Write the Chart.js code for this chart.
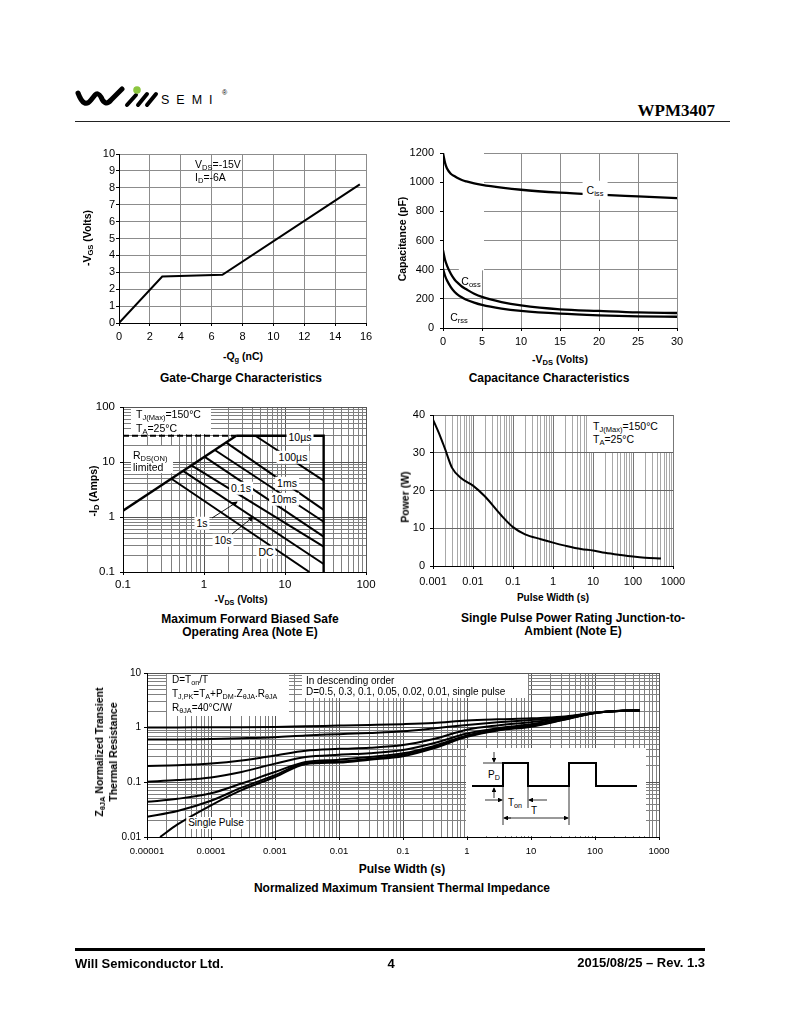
<!DOCTYPE html>
<html><head><meta charset="utf-8">
<script src="https://cdn.jsdelivr.net/npm/chart.js@4"></script>
<style>
html,body{margin:0;padding:0;background:#fff;}
body{width:800px;height:1035px;position:relative;overflow:hidden;font-family:"Liberation Sans",Arial,sans-serif;color:#000;}
canvas{position:absolute;z-index:1;}
.a{position:absolute;white-space:nowrap;z-index:3;line-height:1;}
.b{font-weight:bold;}
.c{transform:translate(-50%,-50%);}
.lm{transform:translate(0,-50%);}
.rot{transform:translate(-50%,-50%) rotate(-90deg);}
.box{position:absolute;background:#fff;z-index:2;}
sub{font-size:72%;vertical-align:baseline;position:relative;top:0.32em;line-height:0;}
.cap{text-align:center;line-height:13px;font-size:12px;font-weight:bold;}
.lbl{font-size:10.5px;padding:1px 2px;background:#fff;}
.nb{font-size:10.5px;}
</style></head><body>

<!-- header -->
<svg class="a" style="left:75px;top:84px;" width="165" height="30" viewBox="0 0 165 30">
  <path d="M3,9 Q9,25 16,16 L20,11 Q23,8 26,13 Q30,23 36,16 L47,5" fill="none" stroke="#000" stroke-width="5" stroke-linecap="round" stroke-linejoin="round"/>
  <line x1="52" y1="21" x2="61" y2="11" stroke="#000" stroke-width="4" stroke-linecap="round"/>
  <circle cx="62" cy="6" r="3.8" fill="#8cc63f"/>
  <line x1="63" y1="21" x2="72" y2="10" stroke="#000" stroke-width="4" stroke-linecap="round"/>
  <line x1="72" y1="21" x2="81" y2="10" stroke="#000" stroke-width="4" stroke-linecap="round"/>
</svg>
<div class="a" style="left:161px;top:94px;font-size:12.5px;letter-spacing:7px;">SEMI</div>
<div class="a" style="left:222px;top:89px;font-size:7px;">®</div>
<div class="a b" style="right:85px;top:102px;font-family:'Liberation Serif','Times New Roman',serif;font-size:17px;">WPM3407</div>
<div class="box" style="left:75px;top:121px;width:655px;height:1px;background:#222;"></div>

<!-- chart 1 texts -->
<div class="a b rot" style="left:87px;top:238px;font-size:10.5px;">-V<sub>GS</sub> (Volts)</div>
<div class="a b c" style="left:243px;top:356px;font-size:10.5px;">-Q<sub>g</sub> (nC)</div>
<div class="a c cap" style="left:241px;top:378px;">Gate-Charge Characteristics</div>
<div class="a lm nb" style="left:195px;top:164px;">V<sub>DS</sub>=-15V</div>
<div class="a lm nb" style="left:195px;top:177px;">I<sub>D</sub>=-6A</div>

<!-- chart 2 texts -->
<div class="a b rot" style="left:402px;top:239px;font-size:10.5px;">Capacitance (pF)</div>
<div class="a b c" style="left:560px;top:359px;font-size:10.5px;">-V<sub>DS</sub> (Volts)</div>
<div class="a c cap" style="left:549px;top:378px;">Capacitance Characteristics</div>
<div class="a c lbl" style="left:595px;top:190px;padding:4px 4px;">C<sub>iss</sub></div>
<div class="a c nb" style="left:471px;top:281px;">C<sub>oss</sub></div>
<div class="a c nb" style="left:459px;top:317px;">C<sub>rss</sub></div>

<!-- chart 3 texts -->
<div class="a b rot" style="left:93px;top:491px;font-size:10.5px;">-I<sub>D</sub> (Amps)</div>
<div class="a b c" style="left:241px;top:600px;font-size:10px;">-V<sub>DS</sub> (Volts)</div>
<div class="a c cap" style="left:250px;top:626px;">Maximum Forward Biased Safe<br>Operating Area (Note E)</div>
<div class="box" style="left:131px;top:408px;width:80px;height:26px;"></div>
<div class="a lm nb" style="left:136px;top:414px;">T<sub>J(Max)</sub>=150°C</div>
<div class="a lm nb" style="left:136px;top:428px;">T<sub>A</sub>=25°C</div>
<div class="box" style="left:131px;top:446px;width:42px;height:27px;"></div>
<div class="a lm nb" style="left:133px;top:455px;">R<sub>DS(ON)</sub></div>
<div class="a lm nb" style="left:133px;top:467px;">limited</div>
<div class="a c lbl" style="left:300px;top:437px;">10µs</div>
<div class="a c lbl" style="left:293px;top:457px;">100µs</div>
<div class="a c lbl" style="left:287px;top:483px;">1ms</div>
<div class="a c lbl" style="left:284px;top:499px;">10ms</div>
<div class="a c lbl" style="left:241px;top:488px;">0.1s</div>
<div class="a c lbl" style="left:202px;top:523px;">1s</div>
<div class="a c lbl" style="left:223px;top:540px;">10s</div>
<div class="a c lbl" style="left:266px;top:552px;">DC</div>

<!-- chart 4 texts -->
<div class="a b rot" style="left:405px;top:497px;font-size:10.5px;">Power (W)</div>
<div class="a b c" style="left:553px;top:598px;font-size:10px;">Pulse Width (s)</div>
<div class="a c cap" style="left:573px;top:625px;">Single Pulse Power Rating Junction-to-<br>Ambient (Note E)</div>
<div class="box" style="left:588px;top:416px;width:84px;height:36px;"></div>
<div class="a lm nb" style="left:593px;top:426px;">T<sub>J(Max)</sub>=150°C</div>
<div class="a lm nb" style="left:593px;top:439px;">T<sub>A</sub>=25°C</div>

<!-- chart 5 texts -->
<div class="a b rot" style="left:106px;top:752px;font-size:10.5px;text-align:center;line-height:14px;">Z<sub>θJA</sub> Normalized Transient<br>Thermal Resistance</div>
<div class="a b c" style="left:402px;top:869px;font-size:12px;">Pulse Width (s)</div>
<div class="a c cap" style="left:402px;top:888px;">Normalized Maximum Transient Thermal Impedance</div>
<div class="box" style="left:167px;top:674px;width:122px;height:42px;"></div>
<div class="a lm" style="left:172px;top:680px;font-size:10px;">D=T<sub>on</sub>/T</div>
<div class="a lm" style="left:172px;top:694px;font-size:10px;">T<sub>J,PK</sub>=T<sub>A</sub>+P<sub>DM</sub>.Z<sub>θJA</sub>.R<sub>θJA</sub></div>
<div class="a lm" style="left:172px;top:708px;font-size:10px;">R<sub>θJA</sub>=40°C/W</div>
<div class="box" style="left:302px;top:674px;width:226px;height:24px;"></div>
<div class="a lm" style="left:306px;top:681px;font-size:10px;">In descending order</div>
<div class="a lm" style="left:306px;top:692px;font-size:10px;">D=0.5, 0.3, 0.1, 0.05, 0.02, 0.01, single pulse</div>
<div class="a c lbl" style="left:216px;top:823px;font-size:10px;">Single Pulse</div>

<svg class="a" style="left:466px;top:748px;background:#fff;z-index:2;" width="180" height="88" viewBox="0 0 180 88">
  <defs><marker id="ah" markerWidth="6" markerHeight="6" refX="5" refY="3" orient="auto"><path d="M0,0 L6,3 L0,6 z" fill="#000"/></marker></defs>
  <polyline points="6,38 37,38 37,15 62,15 62,38 103,38 103,15 130,15 130,38 171,38" fill="none" stroke="#000" stroke-width="2"/>
  <line x1="17" y1="15" x2="37" y2="15" stroke="#000" stroke-width="0.8"/>
  <line x1="28" y1="4" x2="28" y2="14" stroke="#000" stroke-width="0.8" marker-end="url(#ah)"/>
  <line x1="28" y1="50" x2="28" y2="40" stroke="#000" stroke-width="0.8" marker-end="url(#ah)"/>
  <line x1="37" y1="38" x2="37" y2="77" stroke="#000" stroke-width="0.8"/>
  <line x1="62" y1="38" x2="62" y2="60" stroke="#000" stroke-width="0.8"/>
  <line x1="103" y1="38" x2="103" y2="77" stroke="#000" stroke-width="0.8"/>
  <line x1="19" y1="52" x2="36" y2="52" stroke="#000" stroke-width="0.8" marker-end="url(#ah)"/>
  <line x1="81" y1="52" x2="63" y2="52" stroke="#000" stroke-width="0.8" marker-end="url(#ah)"/>
  <line x1="45" y1="70" x2="38" y2="70" stroke="#000" stroke-width="0.8" marker-end="url(#ah)"/>
  <line x1="40" y1="70" x2="102" y2="70" stroke="#000" stroke-width="0.8" marker-end="url(#ah)"/>
</svg>
<div class="a c" style="left:494px;top:775px;font-size:10px;background:#fff;">P<sub>D</sub></div>
<div class="a c" style="left:515px;top:803px;font-size:10px;">T<sub>on</sub></div>
<div class="a c" style="left:534px;top:811px;font-size:10px;">T</div>

<!-- SOA arrows -->
<svg class="a" style="left:0;top:0;pointer-events:none;" width="800" height="1035">
  <defs><marker id="ah2" markerWidth="6" markerHeight="6" refX="5" refY="3" orient="auto"><path d="M0,0 L6,3 L0,6 z" fill="#000"/></marker></defs>
  <line x1="212" y1="518" x2="237" y2="502" stroke="#000" stroke-width="0.9" marker-end="url(#ah2)"/>
  <line x1="232" y1="534" x2="253" y2="517" stroke="#000" stroke-width="0.9" marker-end="url(#ah2)"/>
</svg>

<!-- footer -->
<div class="box" style="left:75px;top:948px;width:630px;height:3px;background:#000;"></div>
<div class="a b lm" style="left:75px;top:963px;font-family:'Liberation Sans Narrow','Arial Narrow',sans-serif;font-size:13px;">Will Semiconductor Ltd.</div>
<div class="a b c" style="left:391px;top:963px;font-family:'Liberation Sans Narrow','Arial Narrow',sans-serif;font-size:13px;">4</div>
<div class="a b" style="right:95px;top:956px;font-family:'Liberation Sans Narrow','Arial Narrow',sans-serif;font-size:13px;">2015/08/25 – Rev. 1.3</div>

<script>
// ---------------- DATA ----------------
// Gate charge
const gateQ = [0, 2.8, 6.7, 15.6];
const gateV = [0, 2.75, 2.85, 8.2];

// Capacitance
const capV    = [0, 0.25, 0.5, 1, 1.5, 2, 2.5, 3, 4, 5, 7.5, 10, 15, 20, 25, 30];
const capCiss = [1200, 1135, 1095, 1058, 1040, 1025, 1013, 1005, 992, 982, 963, 948, 928, 914, 902, 890];
const capCoss = [533, 470, 430, 372, 331, 304, 281, 265, 235, 213, 178, 155, 128, 117, 107, 103];
const capCrss = [407, 360, 327, 281, 247, 224, 208, 194, 174, 158, 133, 117, 98, 87, 80, 77];

// SOA
const soaRdsV = [0.1, 2.5];   const soaRdsI = [1.3, 30];
const soaLimV = [0.1, 2.5];   const soaLimI = [30, 30];
const soaBndV = [2.5, 30, 30]; const soaBndI = [30, 30, 0.1];
const soa100usV = [4.3, 30];  const soa100usI = [30, 4.6];
const soa1msV = [1.85, 30];   const soa1msI = [23, 1.35];
const soa10msV = [1.36, 30];  const soa10msI = [16.5, 0.82];
const soa100msV = [1.02, 30]; const soa100msI = [12.4, 0.44];
const soa1sV = [0.7, 30];     const soa1sI = [8.7, 0.29];
const soa10sV = [0.55, 30];   const soa10sI = [6.9, 0.14];
const soaDcV = [0.4, 20];     const soaDcI = [4.9, 0.1];

// Single pulse power
const pwT = [0.001, 0.0015, 0.002, 0.003, 0.005, 0.01, 0.02, 0.05, 0.1, 0.2, 0.5, 1, 2, 5, 10, 20, 50, 100, 200, 500];
const pwP = [38.8, 34.5, 31, 26, 23.3, 21.3, 18.4, 13.5, 10.3, 8.4, 7.1, 6.2, 5.4, 4.5, 4.1, 3.5, 2.9, 2.5, 2.2, 2.0];

// Transient thermal impedance
const thT   = [1e-5, 3e-5, 1e-4, 3e-4, 1e-3, 3e-3, 0.01, 0.03, 0.1, 0.3, 1, 3, 10, 30, 100, 300, 500];
const thD05 = [1.01, 1.01, 1.02, 1.02, 1.03, 1.06, 1.09, 1.12, 1.16, 1.22, 1.35, 1.42, 1.48, 1.58, 1.88, 2.05, 2.07];
const thD03 = [0.61, 0.61, 0.62, 0.64, 0.67, 0.72, 0.76, 0.80, 0.86, 0.97, 1.12, 1.25, 1.38, 1.52, 1.88, 2.05, 2.07];
const thD01 = [0.20, 0.205, 0.22, 0.25, 0.31, 0.38, 0.41, 0.43, 0.48, 0.62, 0.92, 1.1, 1.26, 1.46, 1.87, 2.05, 2.07];
const thD005 = [0.103, 0.11, 0.123, 0.155, 0.22, 0.29, 0.32, 0.34, 0.39, 0.52, 0.78, 0.98, 1.15, 1.42, 1.87, 2.05, 2.07];
const thD002 = [0.044, 0.05, 0.063, 0.095, 0.155, 0.235, 0.26, 0.29, 0.34, 0.46, 0.72, 0.93, 1.1, 1.4, 1.86, 2.05, 2.07];
const thD001 = [0.0235, 0.03, 0.046, 0.08, 0.135, 0.225, 0.24, 0.27, 0.32, 0.44, 0.70, 0.91, 1.07, 1.38, 1.86, 2.05, 2.07];
const thSpT = [1.6e-5, 3e-5, 1e-4, 3e-4, 1e-3, 3e-3, 0.01, 0.03, 0.1, 0.3, 1, 3, 10, 30, 100, 300, 500];
const thSp  = [0.01, 0.017, 0.038, 0.072, 0.125, 0.215, 0.23, 0.26, 0.30, 0.42, 0.68, 0.89, 1.04, 1.36, 1.86, 2.05, 2.07];

// Tick labels
const soaTicks = [0.1, 1, 10, 100];           const soaTickLabels = ['0.1', '1', '10', '100'];
const pwTicks = [0.001, 0.01, 0.1, 1, 10, 100, 1000];
const pwTickLabels = ['0.001', '0.01', '0.1', '1', '10', '100', '1000'];
const thXTicks = [1e-5, 1e-4, 1e-3, 1e-2, 0.1, 1, 10, 100, 1000];
const thXTickLabels = ['0.00001', '0.0001', '0.001', '0.01', '0.1', '1', '10', '100', '1000'];
const thYTicks = [0.01, 0.1, 1, 10];          const thYTickLabels = ['0.01', '0.1', '1', '10'];

// ---------------- HELPERS ----------------
Chart.defaults.font.family = '"Liberation Sans", Arial, sans-serif';
Chart.defaults.color = '#000';
Chart.defaults.animation = false;
Chart.defaults.plugins.legend.display = false;
Chart.defaults.plugins.tooltip.enabled = false;

const pts = (xs, ys) => xs.map((x, i) => ({x: x, y: ys[i]}));
function ds(xs, ys, w, extra) {
  return Object.assign({data: pts(xs, ys), borderColor: '#000', borderWidth: w, pointRadius: 0, fill: false, tension: 0}, extra || {});
}
const isMajor = v => v > 0 && Math.abs(Math.log10(v) - Math.round(Math.log10(v))) < 1e-6;
function lblFor(v, ticks, labels) {
  for (let i = 0; i < ticks.length; i++) if (Math.abs(Math.log10(v) - Math.log10(ticks[i])) < 1e-6) return labels[i];
  return '';
}
function logTicks(s) {
  const out = [];
  const e0 = Math.round(Math.log10(s.min)), e1 = Math.round(Math.log10(s.max));
  for (let e = e0; e < e1; e++) for (let k = 1; k < 10; k++) out.push({value: k * Math.pow(10, e)});
  out.push({value: Math.pow(10, e1)});
  s.ticks = out;
}
function linAx(min, max, step, o) {
  return {type: 'linear', min: min, max: max,
    ticks: {stepSize: step, font: {size: o.fs}, color: '#000', padding: o.pad, autoSkip: false, maxRotation: 0,
      callback: v => String(v)},
    grid: {color: o.grid, tickColor: '#000', tickLength: o.tl, lineWidth: 1},
    border: {color: '#000', width: 1}};
}
function logAx(min, max, ticks, labels, o) {
  return {type: 'logarithmic', min: min, max: max, afterBuildTicks: logTicks,
    ticks: {font: {size: o.fs}, color: '#000', padding: o.pad, autoSkip: false, maxRotation: 0,
      callback: v => lblFor(v, ticks, labels)},
    grid: {color: c => isMajor(c.tick && c.tick.value) ? o.major : o.minor,
      tickColor: c => isMajor(c.tick && c.tick.value) ? '#000' : 'rgba(0,0,0,0)',
      tickLength: o.tl, lineWidth: 1},
    border: {color: '#000', width: 1}};
}
const maskPlugin = {id: 'mask', beforeDatasetsDraw(chart, args, opts) {
  const boxes = opts.boxes || [];
  const ctx = chart.ctx, x = chart.scales.x, y = chart.scales.y;
  ctx.save(); ctx.fillStyle = '#fff';
  boxes.forEach(b => {
    const x0 = x.getPixelForValue(b[0]), x1 = x.getPixelForValue(b[1]);
    const y0 = y.getPixelForValue(b[2]), y1 = y.getPixelForValue(b[3]);
    ctx.fillRect(x0 + 1, y1 - 1, x1 - x0 + 1, y0 - y1 + 1);
  });
  ctx.restore();
}};
function mk(plot, m, cfg) {
  const c = document.createElement('canvas');
  const w = plot.r - plot.l + m.l + m.r, h = plot.b - plot.t + m.t + m.b;
  c.width = w; c.height = h;
  c.style.left = (plot.l - m.l) + 'px'; c.style.top = (plot.t - m.t) + 'px';
  c.style.width = w + 'px'; c.style.height = h + 'px';
  document.body.insertBefore(c, document.body.firstChild);
  cfg.options.responsive = false;
  cfg.options.maintainAspectRatio = false;
  cfg.options.layout = {padding: {top: m.t, right: m.r, left: 0, bottom: 0}};
  cfg.options.scales.x.afterFit = s => { s.height = m.b; s.paddingLeft = 0; s.paddingRight = 0; };
  cfg.options.scales.y.afterFit = s => { s.width = m.l; s.paddingTop = 0; s.paddingBottom = 0; };
  return new Chart(c, cfg);
}

// ---------------- CHART 1: Gate charge ----------------
mk({l: 119, t: 154, r: 366, b: 323}, {l: 40, t: 10, r: 15, b: 22}, {
  type: 'line',
  data: {datasets: [ds(gateQ, gateV, 2)]},
  options: {scales: {
    x: linAx(0, 16, 2, {fs: 11, pad: 4, tl: 3, grid: '#8c8c8c'}),
    y: linAx(0, 10, 1, {fs: 11, pad: 1, tl: 3, grid: '#8c8c8c'})
  }}
});

// ---------------- CHART 2: Capacitance ----------------
mk({l: 443, t: 153, r: 677, b: 328}, {l: 50, t: 10, r: 15, b: 22}, {
  type: 'line',
  data: {datasets: [
    ds(capV, capCiss, 2.3, {cubicInterpolationMode: 'monotone'}),
    ds(capV, capCoss, 2.3, {cubicInterpolationMode: 'monotone'}),
    ds(capV, capCrss, 2.3, {cubicInterpolationMode: 'monotone'})
  ]},
  plugins: [maskPlugin],
  options: {plugins: {mask: {boxes: [[0, 5, 405, 1200], [1.9, 5, 395, 405]]}},
    scales: {
    x: linAx(0, 30, 5, {fs: 11, pad: 4, tl: 3, grid: '#8c8c8c'}),
    y: linAx(0, 1200, 200, {fs: 11, pad: 6, tl: 3, grid: '#8c8c8c'})
  }}
});

// ---------------- CHART 3: SOA ----------------
mk({l: 123, t: 407, r: 366, b: 572}, {l: 40, t: 10, r: 20, b: 22}, {
  type: 'line',
  data: {datasets: [
    ds(soaRdsV, soaRdsI, 2.4),
    ds(soaLimV, soaLimI, 1.8, {borderDash: [6, 3]}),
    ds(soaBndV, soaBndI, 2.4),
    ds(soa100usV, soa100usI, 2),
    ds(soa1msV, soa1msI, 2),
    ds(soa10msV, soa10msI, 2),
    ds(soa100msV, soa100msI, 2),
    ds(soa1sV, soa1sI, 2),
    ds(soa10sV, soa10sI, 2),
    ds(soaDcV, soaDcI, 2)
  ]},
  options: {scales: {
    x: logAx(0.1, 100, soaTicks, soaTickLabels, {fs: 11.5, pad: 3, tl: 3, major: '#555', minor: '#808080'}),
    y: logAx(0.1, 100, soaTicks, soaTickLabels, {fs: 11.5, pad: 5, tl: 3, major: '#555', minor: '#808080'})
  }}
});

// ---------------- CHART 4: Single pulse power ----------------
mk({l: 433, t: 415, r: 673, b: 566}, {l: 40, t: 10, r: 20, b: 22}, {
  type: 'line',
  data: {datasets: [ds(pwT, pwP, 2, {cubicInterpolationMode: 'monotone'})]},
  options: {scales: {
    x: logAx(0.001, 1000, pwTicks, pwTickLabels, {fs: 11, pad: 6, tl: 3, major: '#777', minor: '#a8a8a8'}),
    y: linAx(0, 40, 10, {fs: 11, pad: 5, tl: 3, grid: '#666'})
  }}
});

// ---------------- CHART 5: Transient thermal impedance ----------------
mk({l: 147, t: 673, r: 659, b: 837}, {l: 40, t: 10, r: 20, b: 22}, {
  type: 'line',
  data: {datasets: [
    ds(thT, thD05, 2, {cubicInterpolationMode: 'monotone'}),
    ds(thT, thD03, 2, {cubicInterpolationMode: 'monotone'}),
    ds(thT, thD01, 2, {cubicInterpolationMode: 'monotone'}),
    ds(thT, thD005, 2, {cubicInterpolationMode: 'monotone'}),
    ds(thT, thD002, 2, {cubicInterpolationMode: 'monotone'}),
    ds(thT, thD001, 2, {cubicInterpolationMode: 'monotone'}),
    ds(thSpT, thSp, 2, {cubicInterpolationMode: 'monotone'})
  ]},
  options: {scales: {
    x: logAx(1e-5, 1000, thXTicks, thXTickLabels, {fs: 9.5, pad: 6, tl: 3, major: '#555', minor: '#808080'}),
    y: logAx(0.01, 10, thYTicks, thYTickLabels, {fs: 10, pad: 3, tl: 3, major: '#555', minor: '#808080'})
  }}
});
</script>
</body></html>
